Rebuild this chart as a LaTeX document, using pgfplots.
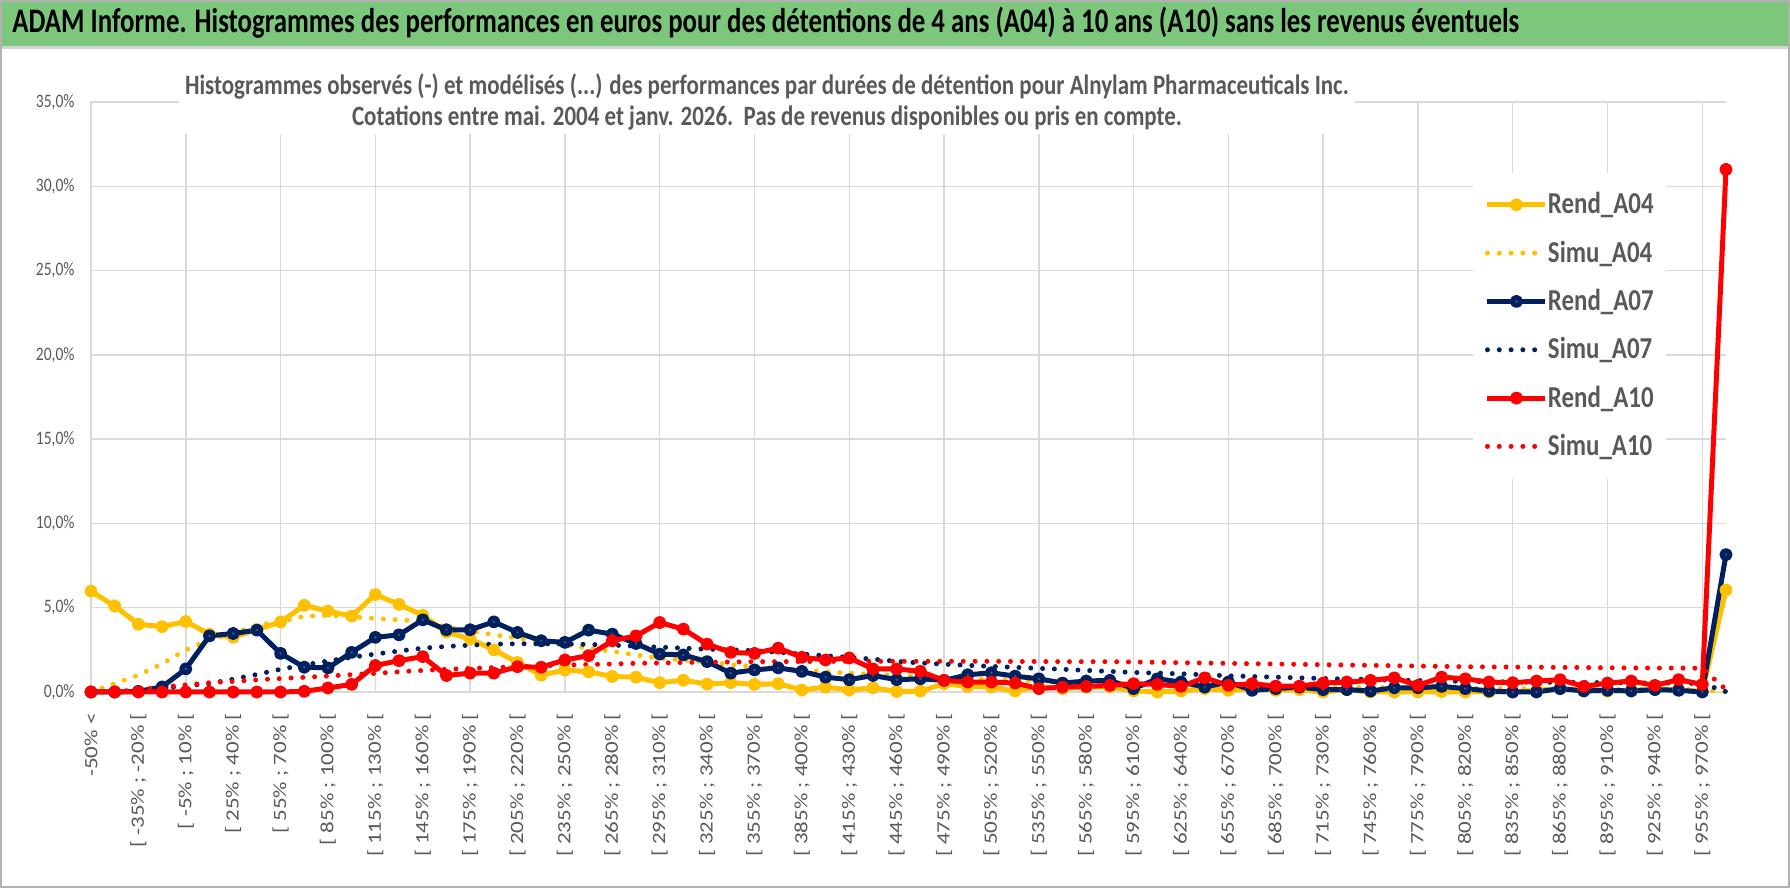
\documentclass[border=0pt]{standalone}
\usepackage{pgfplots}
\pgfplotsset{compat=1.18}
\usepackage{pgfplotstable}
\usepackage{fontspec}
\setmainfont{Carlito}[FakeStretch=0.82]
\newfontfamily\xfont{Carlito}[FakeStretch=1.22]
\newfontfamily\titlefont{Carlito}[FakeStretch=0.78]
\definecolor{cY}{HTML}{FFC000}
\definecolor{cN}{HTML}{002060}
\definecolor{cNm}{HTML}{44546A}
\definecolor{cR}{HTML}{FF0000}
\definecolor{txt}{HTML}{595959}
\definecolor{grd}{HTML}{D9D9D9}
\definecolor{bar}{HTML}{7DC77D}

\pgfplotstableread{
k r04 s04 r07 s07 r10 s10
0 5.98 0.00 0.00 0.00 0.00 0.00
1 5.10 0.50 0.00 0.02 0.00 0.03
2 4.02 1.00 0.04 0.08 0.00 0.12
3 3.88 1.67 0.30 0.20 0.00 0.30
4 4.18 2.50 1.37 0.37 0.00 0.42
5 3.43 3.08 3.33 0.50 0.00 0.55
6 3.25 3.47 3.47 0.76 0.00 0.63
7 3.70 3.96 3.67 1.04 0.00 0.72
8 4.15 4.18 2.29 1.35 0.00 0.80
9 5.14 4.49 1.47 1.60 0.04 0.87
10 4.80 4.55 1.43 1.84 0.24 0.95
11 4.50 4.45 2.35 2.06 0.45 1.03
12 5.78 4.37 3.24 2.25 1.57 1.10
13 5.20 4.27 3.39 2.43 1.86 1.20
14 4.55 4.20 4.28 2.60 2.10 1.28
15 3.55 3.85 3.69 2.70 0.98 1.35
16 3.15 3.63 3.69 2.78 1.12 1.40
17 2.50 3.39 4.16 2.84 1.12 1.45
18 1.75 3.20 3.53 2.86 1.50 1.50
19 1.00 2.98 3.04 2.86 1.47 1.55
20 1.30 2.80 2.94 2.85 1.90 1.60
21 1.20 2.60 3.67 2.82 2.16 1.63
22 0.92 2.41 3.43 2.78 3.04 1.66
23 0.88 2.20 2.88 2.72 3.33 1.70
24 0.55 2.00 2.25 2.66 4.12 1.72
25 0.70 1.90 2.20 2.60 3.73 1.75
26 0.47 1.76 1.80 2.54 2.84 1.77
27 0.55 1.63 1.12 2.50 2.35 1.78
28 0.45 1.50 1.31 2.45 2.29 1.80
29 0.49 1.40 1.43 2.35 2.60 1.80
30 0.12 1.30 1.22 2.25 2.06 1.81
31 0.29 1.20 0.88 2.15 1.90 1.81
32 0.12 1.12 0.73 2.05 2.02 1.82
33 0.25 1.05 0.98 1.95 1.37 1.82
34 0.03 0.98 0.73 1.82 1.37 1.82
35 0.05 0.90 0.78 1.72 1.22 1.82
36 0.49 0.85 0.69 1.65 0.69 1.82
37 0.33 0.80 1.02 1.58 0.59 1.82
38 0.29 0.75 1.14 1.52 0.59 1.82
39 0.06 0.70 0.94 1.46 0.53 1.81
40 0.33 0.65 0.78 1.40 0.20 1.81
41 0.20 0.60 0.53 1.35 0.29 1.80
42 0.29 0.56 0.65 1.28 0.33 1.80
43 0.30 0.52 0.69 1.22 0.39 1.80
44 0.06 0.49 0.20 1.16 0.49 1.78
45 0.00 0.46 0.78 1.12 0.45 1.76
46 0.06 0.43 0.59 1.08 0.33 1.74
47 0.20 0.40 0.29 1.02 0.84 1.72
48 0.10 0.38 0.59 0.96 0.39 1.70
49 0.20 0.36 0.10 0.92 0.49 1.68
50 0.10 0.34 0.20 0.88 0.35 1.66
51 0.14 0.32 0.29 0.84 0.35 1.64
52 0.00 0.30 0.14 0.80 0.53 1.62
53 0.14 0.28 0.14 0.77 0.59 1.60
54 0.00 0.27 0.06 0.74 0.69 1.58
55 0.00 0.25 0.25 0.70 0.84 1.56
56 0.00 0.24 0.25 0.68 0.39 1.54
57 0.02 0.23 0.33 0.65 0.88 1.52
58 0.00 0.22 0.20 0.63 0.78 1.50
59 0.00 0.21 0.06 0.61 0.59 1.49
60 0.00 0.20 0.00 0.60 0.55 1.48
61 0.10 0.19 0.00 0.58 0.65 1.47
62 0.20 0.18 0.20 0.57 0.73 1.46
63 0.10 0.17 0.06 0.56 0.33 1.45
64 0.05 0.16 0.10 0.55 0.53 1.44
65 0.10 0.15 0.06 0.54 0.65 1.43
66 0.15 0.15 0.14 0.53 0.39 1.42
67 0.15 0.14 0.10 0.52 0.73 1.42
68 0.02 0.13 0.00 0.51 0.45 1.41
69 6.05 0.00 8.15 0.02 31.00 0.14
}\data

\begin{document}
\begin{tikzpicture}[x=1pt,y=1pt]
\fill[white] (0,0) rectangle (895,444);
\fill[bar] (0,421) rectangle (895,444);
\draw[gray!35, line width=1.5pt] (0,420) -- (895,420);
\node[anchor=west, inner sep=0pt, font=\titlefont\fontsize{17.2}{19}\selectfont\bfseries] at (6,432.5) {ADAM Informe. Histogrammes des performances en euros pour des détentions de 4 ans (A04) à 10 ans (A10) sans les revenus éventuels};
\begin{axis}[
  at={(45.5pt,98pt)}, anchor=origin,
  scale only axis, width=817.5pt, height=295pt,
  xmin=0, xmax=69, ymin=0, ymax=35,
  axis line style={draw=none},
  major tick length=0pt,
  ytick={0,5,...,35},
  ymajorgrids, xmajorgrids,
  grid style={grd, line width=0.75pt},
  xtick={0,4,...,68},
  xticklabels={{-50\% <},{[ -5\% ; 10\% [},{[ 55\% ; 70\% [},{[ 115\% ; 130\% [},{[ 175\% ; 190\% [},{[ 235\% ; 250\% [},{[ 295\% ; 310\% [},{[ 355\% ; 370\% [},{[ 415\% ; 430\% [},{[ 475\% ; 490\% [},{[ 535\% ; 550\% [},{[ 595\% ; 610\% [},{[ 655\% ; 670\% [},{[ 715\% ; 730\% [},{[ 775\% ; 790\% [},{[ 835\% ; 850\% [},{[ 895\% ; 910\% [},{[ 955\% ; 970\% [}},
  extra x ticks={2,6,...,66},
  extra x tick labels={{[ -35\% ; -20\% [},{[ 25\% ; 40\% [},{[ 85\% ; 100\% [},{[ 145\% ; 160\% [},{[ 205\% ; 220\% [},{[ 265\% ; 280\% [},{[ 325\% ; 340\% [},{[ 385\% ; 400\% [},{[ 445\% ; 460\% [},{[ 505\% ; 520\% [},{[ 565\% ; 580\% [},{[ 625\% ; 640\% [},{[ 685\% ; 700\% [},{[ 745\% ; 760\% [},{[ 805\% ; 820\% [},{[ 865\% ; 880\% [},{[ 925\% ; 940\% [}},
  extra x tick style={grid=none},
  xticklabel style={rotate=90, anchor=east, font=\xfont\fontsize{9.4}{10}\selectfont, text=txt, inner xsep=10.5pt, inner ysep=0pt},
  yticklabel style={font=\fontsize{9.5}{11}\selectfont, text=txt, inner xsep=8pt, inner ysep=0pt, anchor=east},
  yticklabel={\pgfmathprintnumber[fixed,fixed zerofill,precision=1,use comma,assume math mode=true]{\tick}\%},
  legend style={at={(0.845,0.881)}, anchor=north west, draw=none, fill=white,
    font=\fontsize{15.2}{16}\selectfont\bfseries, text=txt, row sep=8pt, inner xsep=6pt, inner ysep=8pt,
    nodes={inner xsep=0pt}},
  legend cell align=left,
  legend image code/.code={\draw[mark repeat=2,mark phase=2] plot coordinates {(0pt,0pt)(14.5pt,0pt)(29pt,0pt)};},
  clip=false,
]
\addplot[cY, line width=2.5pt, line join=round, mark=*, mark size=2pt, mark options={fill=cY, draw=none}] table[x=k,y=r04]{\data};
\addlegendentry{Rend\_A04}
\addplot[cY, line width=2.5pt, line cap=round, dash pattern=on 0pt off 5.9pt, no markers] table[x=k,y=s04]{\data};
\addlegendentry{Simu\_A04}
\addplot[cN, line width=2.5pt, line join=round, mark=*, mark size=2pt, mark options={fill=cNm, draw=none}] table[x=k,y=r07]{\data};
\addlegendentry{Rend\_A07}
\addplot[cN, line width=2.5pt, line cap=round, dash pattern=on 0pt off 5.9pt, no markers] table[x=k,y=s07]{\data};
\addlegendentry{Simu\_A07}
\addplot[cR, line width=2.5pt, line join=round, mark=*, mark size=2pt, mark options={fill=cR, draw=none}] table[x=k,y=r10]{\data};
\addlegendentry{Rend\_A10}
\addplot[cR, line width=2.5pt, line cap=round, dash pattern=on 0pt off 5.9pt, no markers] table[x=k,y=s10]{\data};
\addlegendentry{Simu\_A10}
\end{axis}
\node[fill=white, align=center, text=txt, inner xsep=3pt, inner ysep=2pt, font=\fontsize{14}{15.5}\selectfont\bfseries] at (383.5,393.25) {Histogrammes observés (-) et modélisés (...) des performances par durées de détention pour Alnylam Pharmaceuticals Inc.\\Cotations entre mai. 2004 et janv. 2026.\ \ Pas de revenus disponibles ou pris en compte.};
\draw[gray!60, line width=1pt] (0.5,0.5) rectangle (894.5,443.5);
\pgfresetboundingbox
\useasboundingbox (0,0) rectangle (895,444);
\end{tikzpicture}
\end{document}
